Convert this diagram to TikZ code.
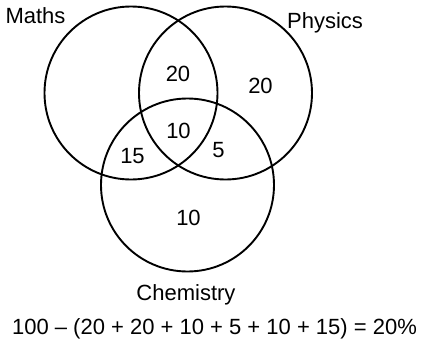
\documentclass[tikz,border=0pt]{standalone}
\usepackage{fontspec}
\setmainfont{Liberation Sans}
\usetikzlibrary{positioning}

\begin{document}
\begin{tikzpicture}[
    x=1pt, y=-1pt,
    every node/.style={font=\fontsize{22}{26}\selectfont},
    set/.style={circle, draw, line width=1.9pt, minimum size=173pt,
      inner sep=0pt, anchor=center},
    setname/.style={inner sep=0pt, anchor=base},
    region/.style={inner sep=0pt, anchor=base}
]
\useasboundingbox (0,0) rectangle (426,338);
% the three sets
\node[set] (maths) at (131,93) {};
\node[set] (physics) at (225.5,93) {};
\node[set] (chemistry) at (187.5,185) {};

\node[setname] (mathsName) at (35.5,23) {Maths};
\node[setname] (physicsName) at (325,28) {Physics};
\node[setname] (chemistryName) at (186,300) {Chemistry};

% numbers in the regions
\node[region] (mp) at (178,81) {20};
\node[region] (pOnly) at (260.5,93) {20};
\node[region] (mpc) at (178.5,138) {10};
\node[region] (mc) at (132.5,163) {15};
\node[region] (pc) at (218.5,157) {5};
\node[region] (cOnly) at (188.5,225) {10};

\node[region] (total) at (214.5,334)
  {100 \textendash{} (20 + 20 + 10 + 5 + 10 + 15) = 20\%};
\end{tikzpicture}
\end{document}
